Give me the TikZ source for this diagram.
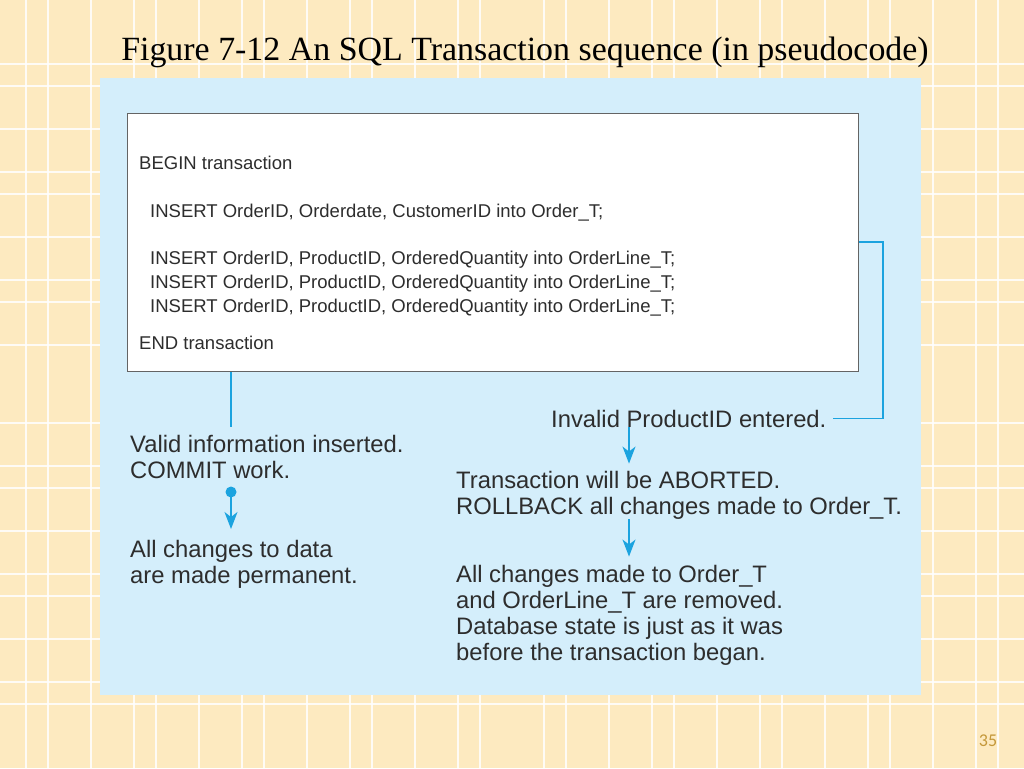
\documentclass[tikz,border=0pt]{standalone}
\usepackage{fontspec}
\setmainfont{Liberation Serif}
\setsansfont{Liberation Sans}
\newfontfamily\pagefont{Carlito}
\usetikzlibrary{arrows.meta}

\definecolor{paper}{RGB}{253,234,192}
\definecolor{panel}{RGB}{212,238,251}
\definecolor{link}{RGB}{27,163,223}
\definecolor{ink}{RGB}{45,45,45}
\definecolor{frame}{RGB}{100,100,100}
\definecolor{pagenum}{RGB}{196,152,58}

\tikzset{
  gridline/.style={draw=white, line width=1.5pt, opacity=0.85},
  codeline/.style={anchor=base west, inner sep=0pt, text=ink,
                   font=\sffamily\fontsize{18.5}{24}\selectfont},
  note/.style={anchor=base west, inner sep=0pt, text=ink, align=left,
               font=\sffamily\fontsize{23.8}{26}\selectfont},
  wire/.style={draw=link, line width=1.3pt},
  flow/.style={wire, -{Stealth[length=17pt,width=13pt,inset=5pt]}},
}

\begin{document}
\begin{tikzpicture}[x=1pt,y=-1pt]
  \useasboundingbox (0,0) rectangle (1024,768);
  % paper with its plaid
  \fill[paper] (0,0) rectangle (1024,768);
  \foreach \gx in {26,48,91,134,156,199,242,264,307,350,372,415,458,480} {
    \draw[gridline] (\gx,0) -- (\gx,768);
    \draw[gridline] (1024-\gx,0) -- (1024-\gx,768);
  }
  \foreach \gy in {64,86,129,172,194,237,280,302,345} {
    \draw[gridline] (0,\gy) -- (1024,\gy);
    \draw[gridline] (0,768-\gy) -- (1024,768-\gy);
  }

  \node[font=\fontsize{33.9}{38}\selectfont, anchor=base] (title) at (525,60)
    {Figure 7-12 An SQL Transaction sequence (in pseudocode)};

  % figure panel
  \fill[panel] (100,78) rectangle (921,695);
  \node[draw=frame, line width=1.3pt, fill=white, anchor=north west,
        minimum width=731pt, minimum height=258pt, inner sep=0pt] (code) at (127,113) {};

  % pseudocode
  \node[codeline] (begin) at (139,169) {BEGIN transaction};
  \node[codeline] (ins1) at (150,217) {INSERT OrderID, Orderdate, CustomerID into Order\_T;};
  \node[codeline] (ins2) at (150,264) {INSERT OrderID, ProductID, OrderedQuantity into OrderLine\_T;};
  \node[codeline] (ins3) at (150,288) {INSERT OrderID, ProductID, OrderedQuantity into OrderLine\_T;};
  \node[codeline] (ins4) at (150,312) {INSERT OrderID, ProductID, OrderedQuantity into OrderLine\_T;};
  \node[codeline] (end) at (139,349) {END transaction};

  % outcomes (base = last line)
  \node[note] (valid) at (130,478) {Valid information inserted.\\COMMIT work.};
  \node[note] (permanent) at (130,583) {All changes to data\\are made permanent.};
  \node[note] (invalid) at (551,427) {Invalid ProductID entered.};
  \node[note] (abort) at (456,514) {Transaction will be ABORTED.\\ROLLBACK all changes made to Order\_T.};
  \node[note] (removed) at (456,660) {All changes made to Order\_T\\and OrderLine\_T are removed.\\Database state is just as it was\\before the transaction began.};

  \node[font=\pagefont\fontsize{18}{18}\selectfont, text=pagenum] (pageno) at (988,741) {35};

  % connectors
  \coordinate (commitdrop) at (231,427);
  \draw[wire] (code.south -| commitdrop) -- (commitdrop);
  \node[circle, fill=link, inner sep=0pt, minimum size=11pt] (dot) at (231,492) {};
  \coordinate (committip) at (231,529);
  \draw[flow] (dot.center) -- (committip);

  \coordinate (bend) at (883,242);
  \draw[wire] (code.east |- bend) -- (bend) |- ([xshift=6pt]invalid.east);

  \coordinate (abortx) at (629,0);
  \draw[flow, shorten >=7pt] (invalid.south -| abortx) -- (abort.north -| abortx);
  \draw[flow, shorten >=8pt] (abort.south -| abortx) -- (removed.north -| abortx);
\end{tikzpicture}
\end{document}
